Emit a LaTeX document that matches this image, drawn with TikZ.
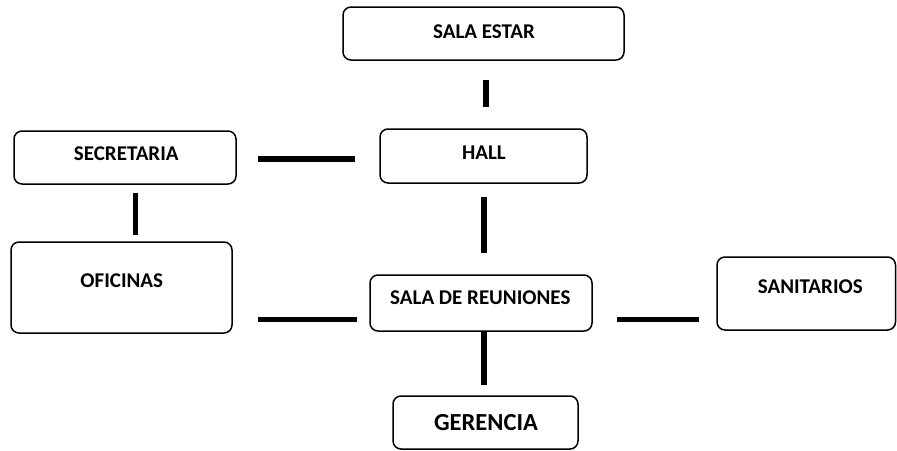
\documentclass[tikz,border=0pt]{standalone}
\usepackage{fontspec}
\setmainfont{Carlito}
\usetikzlibrary{calc}
\begin{document}
\begin{tikzpicture}[x=1pt,y=-1pt,
  box/.style={draw=black,line width=1.5pt,rounded corners=8pt,inner sep=0pt,outer sep=0pt,fill=white},
  lbl/.style={inner sep=0pt,font=\fontsize{21}{24}\selectfont\bfseries},
  biglbl/.style={inner sep=0pt,font=\fontsize{24.5}{28}\selectfont\bfseries},
  link/.style={draw=black,line width=5.5pt,line cap=butt}]
\useasboundingbox[fill=white] (0,0) rectangle (897,450);
% boxes
\node[box,minimum width=281pt,minimum height=53pt] (salaestar) at (483.5,33.5) {};
\node[box,minimum width=222pt,minimum height=53pt] (secretaria) at (125,157.5) {};
\node[box,minimum width=207pt,minimum height=54pt] (hall) at (483.5,156) {};
\node[box,minimum width=221pt,minimum height=91pt] (oficinas) at (121.5,287.5) {};
\node[box,minimum width=222pt,minimum height=56pt] (reuniones) at (481,303) {};
\node[box,minimum width=185pt,minimum height=53pt] (gerencia) at (485.5,422.5) {};
\node[box,minimum width=178.5pt,minimum height=73pt] (sanitarios) at (806.25,293.5) {};
% labels
\node[lbl] (tsalaestar) at (484,31.3) {SALA ESTAR};
\node[lbl] (tsecretaria) at (126.3,154) {SECRETARIA};
\node[lbl] (thall) at (484,153) {HALL};
\node[lbl] (toficinas) at (121.8,281) {OFICINAS};
\node[lbl] (treuniones) at (480.3,298) {SALA DE REUNIONES};
\node[biglbl] (tgerencia) at (486,422.5) {GERENCIA};
\node[lbl] (tsanitarios) at (810.3,286.3) {SANITARIOS};
% connectors
\draw[link,shorten <=20pt,shorten >=22pt] ($(salaestar.south)+(2.5,0)$) -- ($(hall.north -| salaestar.south)+(2.5,0)$);
\draw[link,shorten <=22pt,shorten >=25pt] ($(secretaria.east)+(0,1.5)$) -- ($(secretaria.east -| hall.west)+(0,1.5)$);
\draw[link,shorten <=9pt,shorten >=7pt] ($(secretaria.south)+(10.5,0)$) -- ($(oficinas.north -| secretaria.south)+(10.5,0)$);
\draw[link,shorten <=14pt,shorten >=22pt] ($(hall.south)+(0.5,0)$) -- ($(reuniones.north -| hall.south)+(0.5,0)$);
\draw[link,shorten <=26pt,shorten >=13pt] ($(oficinas.east)+(0,31.8)$) -- ($(oficinas.east -| reuniones.west)+(0,31.8)$);
\draw[link,shorten <=0pt,shorten >=11pt] ($(reuniones.south)+(3,0)$) -- ($(gerencia.north -| reuniones.south)+(3,0)$);
\draw[link,shorten <=25pt,shorten >=18pt] ($(reuniones.east)+(0,16.3)$) -- ($(reuniones.east -| sanitarios.west)+(0,16.3)$);
\end{tikzpicture}
\end{document}
